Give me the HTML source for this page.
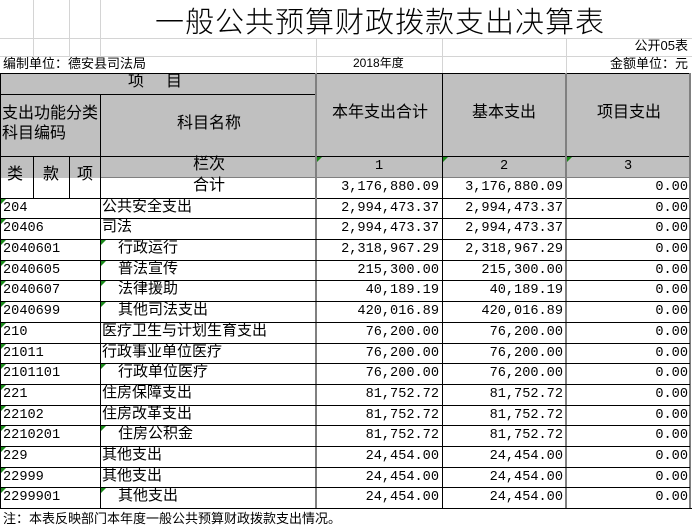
<!DOCTYPE html>
<html><head><meta charset="utf-8"><style>
*{margin:0;padding:0;box-sizing:border-box}
body{width:692px;height:532px;background:#fff;position:relative;overflow:hidden;font-family:"Liberation Sans","Noto Sans CJK SC",sans-serif;font-size:15px;color:#000}
div{position:absolute}
.h{height:1px;background:#000}
.v{width:1px;background:#000}
.g{background:#808080}
.l{background:#d4d4d4}
.t{white-space:nowrap;line-height:20px;margin-top:-2px}
.n{font-family:"Liberation Mono",monospace;font-size:13.6px;text-align:right;white-space:nowrap;line-height:20px}
.c{font-family:"Liberation Mono","Noto Sans CJK SC",monospace;font-size:13.6px;white-space:nowrap;line-height:20px}
.tri{width:0;height:0;border-top:5px solid #1a8a1a;border-right:5px solid transparent}
</style></head><body>
<div class="v l" style="left:33px;top:0;height:56px"></div>
<div class="v l" style="left:69px;top:0;height:56px"></div>
<div class="v l" style="left:100px;top:0;height:56px"></div>
<div class="v l" style="left:316px;top:38px;height:35px"></div>
<div class="v l" style="left:442px;top:38px;height:35px"></div>
<div class="v l" style="left:566px;top:38px;height:35px"></div>
<div class="h l" style="left:0;top:38px;width:692px"></div>
<div class="h l" style="left:0;top:56px;width:692px"></div>
<div style="left:155px;top:2px;font-size:29px;line-height:36px;font-family:'Noto Sans CJK SC',sans-serif;font-weight:300;letter-spacing:1px;white-space:nowrap">一般公共预算财政拨款支出决算表</div>
<div class="t" style="right:4px;top:39px;font-size:13px;line-height:18px">公开05表</div>
<div class="t" style="left:3px;top:57px;font-size:13px;line-height:17px">编制单位：德安县司法局</div>
<div class="t" style="left:353px;top:57px;font-size:12px;line-height:17px">2018年度</div>
<div class="t" style="right:4px;top:57px;font-size:13px;line-height:17px">金额单位：元</div>
<div style="left:0;top:73px;width:690px;height:105px;background:#c0c0c0"></div>
<div style="left:316px;top:178px;width:374px;height:20px;background:#fff"></div>
<div class="h" style="left:0;top:73px;width:690px"></div>
<div class="h" style="left:0;top:94px;width:316px"></div>
<div class="h" style="left:0;top:156px;width:690px"></div>
<div class="h g" style="left:100px;top:177px;width:590px"></div>
<div class="h" style="left:0;top:198px;width:690px"></div>
<div class="v" style="left:0;top:73px;height:435px"></div>
<div class="v" style="left:100px;top:94px;height:414px"></div>
<div class="v" style="left:33px;top:156px;height:42px"></div>
<div class="v" style="left:69px;top:156px;height:42px"></div>
<div class="v g" style="left:315px;top:73px;height:435px;width:2px"></div>
<div class="v" style="left:442px;top:73px;height:435px"></div>
<div class="v g" style="left:565px;top:73px;height:435px;width:2px"></div>
<div class="v g" style="left:689px;top:73px;height:435px;width:2px"></div>
<div class="t" style="left:128px;top:74px;letter-spacing:22px;font-size:16px">项目</div>
<div class="t" style="left:2px;top:106px;font-size:16px;line-height:20px">支出功能分类<br>科目编码</div>
<div class="t" style="left:177px;top:116px;font-size:16px">科目名称</div>
<div class="t" style="left:332px;top:105px;font-size:16px">本年支出合计</div>
<div class="t" style="left:472px;top:105px;font-size:16px">基本支出</div>
<div class="t" style="left:597px;top:105px;font-size:16px">项目支出</div>
<div class="t" style="left:7px;top:167px;font-size:16px">类</div>
<div class="t" style="left:43px;top:167px;font-size:16px">款</div>
<div class="t" style="left:77px;top:167px;font-size:16px">项</div>
<div class="t" style="left:193px;top:157px;font-size:16px">栏次</div>
<div class="t" style="left:193px;top:178px;font-size:16px">合计</div>
<div class="c" style="left:375px;top:157px">1</div>
<div class="c" style="left:500px;top:157px">2</div>
<div class="c" style="left:624px;top:157px">3</div>
<div class="tri" style="left:317px;top:157px"></div>
<div class="tri" style="left:443px;top:157px"></div>
<div class="tri" style="left:567px;top:157px"></div>
<div class="n" style="right:253px;top:178px">3,176,880.09</div>
<div class="n" style="right:129px;top:178px">3,176,880.09</div>
<div class="n" style="right:4px;top:178px">0.00</div>

<div class="h" style="left:0;top:218px;width:690px"></div>
<div class="h" style="left:0;top:239px;width:690px"></div>
<div class="h" style="left:0;top:260px;width:690px"></div>
<div class="h" style="left:0;top:280px;width:690px"></div>
<div class="h" style="left:0;top:301px;width:690px"></div>
<div class="h" style="left:0;top:322px;width:690px"></div>
<div class="h" style="left:0;top:343px;width:690px"></div>
<div class="h" style="left:0;top:363px;width:690px"></div>
<div class="h" style="left:0;top:384px;width:690px"></div>
<div class="h" style="left:0;top:405px;width:690px"></div>
<div class="h" style="left:0;top:425px;width:690px"></div>
<div class="h" style="left:0;top:446px;width:690px"></div>
<div class="h" style="left:0;top:467px;width:690px"></div>
<div class="h" style="left:0;top:487px;width:690px"></div>
<div class="h" style="left:0;top:508px;width:692px"></div>

<div class="c" style="left:3px;top:199px">204</div><div class="t" style="left:102px;top:199px">公共安全支出</div><div class="n" style="right:253px;top:199px">2,994,473.37</div><div class="n" style="right:129px;top:199px">2,994,473.37</div><div class="n" style="right:4px;top:199px">0.00</div>
<div class="c" style="left:3px;top:219px">20406</div><div class="t" style="left:102px;top:219px">司法</div><div class="n" style="right:253px;top:219px">2,994,473.37</div><div class="n" style="right:129px;top:219px">2,994,473.37</div><div class="n" style="right:4px;top:219px">0.00</div>
<div class="c" style="left:3px;top:240px">2040601</div><div class="t" style="left:118px;top:240px">行政运行</div><div class="n" style="right:253px;top:240px">2,318,967.29</div><div class="n" style="right:129px;top:240px">2,318,967.29</div><div class="n" style="right:4px;top:240px">0.00</div>
<div class="c" style="left:3px;top:261px">2040605</div><div class="t" style="left:118px;top:261px">普法宣传</div><div class="n" style="right:253px;top:261px">215,300.00</div><div class="n" style="right:129px;top:261px">215,300.00</div><div class="n" style="right:4px;top:261px">0.00</div>
<div class="c" style="left:3px;top:281px">2040607</div><div class="t" style="left:118px;top:281px">法律援助</div><div class="n" style="right:253px;top:281px">40,189.19</div><div class="n" style="right:129px;top:281px">40,189.19</div><div class="n" style="right:4px;top:281px">0.00</div>
<div class="c" style="left:3px;top:302px">2040699</div><div class="t" style="left:118px;top:302px">其他司法支出</div><div class="n" style="right:253px;top:302px">420,016.89</div><div class="n" style="right:129px;top:302px">420,016.89</div><div class="n" style="right:4px;top:302px">0.00</div>
<div class="c" style="left:3px;top:323px">210</div><div class="t" style="left:102px;top:323px">医疗卫生与计划生育支出</div><div class="n" style="right:253px;top:323px">76,200.00</div><div class="n" style="right:129px;top:323px">76,200.00</div><div class="n" style="right:4px;top:323px">0.00</div>
<div class="c" style="left:3px;top:344px">21011</div><div class="t" style="left:102px;top:344px">行政事业单位医疗</div><div class="n" style="right:253px;top:344px">76,200.00</div><div class="n" style="right:129px;top:344px">76,200.00</div><div class="n" style="right:4px;top:344px">0.00</div>
<div class="c" style="left:3px;top:364px">2101101</div><div class="t" style="left:118px;top:364px">行政单位医疗</div><div class="n" style="right:253px;top:364px">76,200.00</div><div class="n" style="right:129px;top:364px">76,200.00</div><div class="n" style="right:4px;top:364px">0.00</div>
<div class="c" style="left:3px;top:385px">221</div><div class="t" style="left:102px;top:385px">住房保障支出</div><div class="n" style="right:253px;top:385px">81,752.72</div><div class="n" style="right:129px;top:385px">81,752.72</div><div class="n" style="right:4px;top:385px">0.00</div>
<div class="c" style="left:3px;top:406px">22102</div><div class="t" style="left:102px;top:406px">住房改革支出</div><div class="n" style="right:253px;top:406px">81,752.72</div><div class="n" style="right:129px;top:406px">81,752.72</div><div class="n" style="right:4px;top:406px">0.00</div>
<div class="c" style="left:3px;top:426px">2210201</div><div class="t" style="left:118px;top:426px">住房公积金</div><div class="n" style="right:253px;top:426px">81,752.72</div><div class="n" style="right:129px;top:426px">81,752.72</div><div class="n" style="right:4px;top:426px">0.00</div>
<div class="c" style="left:3px;top:447px">229</div><div class="t" style="left:102px;top:447px">其他支出</div><div class="n" style="right:253px;top:447px">24,454.00</div><div class="n" style="right:129px;top:447px">24,454.00</div><div class="n" style="right:4px;top:447px">0.00</div>
<div class="c" style="left:3px;top:468px">22999</div><div class="t" style="left:102px;top:468px">其他支出</div><div class="n" style="right:253px;top:468px">24,454.00</div><div class="n" style="right:129px;top:468px">24,454.00</div><div class="n" style="right:4px;top:468px">0.00</div>
<div class="c" style="left:3px;top:488px">2299901</div><div class="t" style="left:118px;top:488px">其他支出</div><div class="n" style="right:253px;top:488px">24,454.00</div><div class="n" style="right:129px;top:488px">24,454.00</div><div class="n" style="right:4px;top:488px">0.00</div>

<div class="tri" style="left:1px;top:199px"></div><div class="tri" style="left:1px;top:219px"></div><div class="tri" style="left:1px;top:240px"></div><div class="tri" style="left:1px;top:261px"></div><div class="tri" style="left:1px;top:281px"></div><div class="tri" style="left:1px;top:302px"></div><div class="tri" style="left:1px;top:323px"></div><div class="tri" style="left:1px;top:344px"></div><div class="tri" style="left:1px;top:364px"></div><div class="tri" style="left:1px;top:385px"></div><div class="tri" style="left:1px;top:406px"></div><div class="tri" style="left:1px;top:426px"></div><div class="tri" style="left:1px;top:447px"></div><div class="tri" style="left:1px;top:468px"></div><div class="tri" style="left:1px;top:488px"></div>
<div class="tri" style="left:101px;top:240px"></div><div class="tri" style="left:101px;top:261px"></div><div class="tri" style="left:101px;top:281px"></div><div class="tri" style="left:101px;top:302px"></div><div class="tri" style="left:101px;top:364px"></div><div class="tri" style="left:101px;top:426px"></div><div class="tri" style="left:101px;top:488px"></div>

<div class="t" style="left:3px;top:511px;font-size:13px">注：本表反映部门本年度一般公共预算财政拨款支出情况。</div>
</body></html>
